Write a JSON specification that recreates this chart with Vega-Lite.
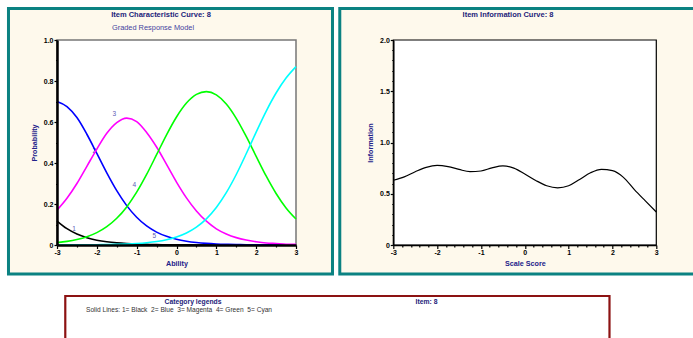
{
  "$schema": "https://vega.github.io/schema/vega-lite/v6.json",
  "background": "white",
  "padding": {"left": 6, "top": 6, "right": 0, "bottom": 0},
  "bounds": "flush",
  "spacing": 97.3,
  "config": {
    "view": {"stroke": null},
    "font": "Liberation Sans",
    "axis": {"grid": false, "labelFont": "Liberation Sans", "labelFontWeight": "bold", "labelFontSize": 7, "labelColor": "#000000", "titleFont": "Liberation Sans", "titleFontWeight": "bold", "titleFontSize": 7.2, "titleColor": "#22228a", "tickColor": "#000000", "domainColor": "#000000"}
  },
  "datasets": {
    "icc": [
      {"theta": -3, "cat": "1", "prob": 0.1168}, {"theta": -2.75, "cat": "1", "prob": 0.0796}, {"theta": -2.5, "cat": "1", "prob": 0.0535}, {"theta": -2.25, "cat": "1", "prob": 0.0357}, {"theta": -2, "cat": "1", "prob": 0.0236}, {"theta": -1.75, "cat": "1", "prob": 0.0155}, {"theta": -1.5, "cat": "1", "prob": 0.0102}, {"theta": -1.25, "cat": "1", "prob": 0.0067}, {"theta": -1, "cat": "1", "prob": 0.0044}, {"theta": -0.75, "cat": "1", "prob": 0.0029}, {"theta": -0.5, "cat": "1", "prob": 0.0019}, {"theta": -0.25, "cat": "1", "prob": 0.0012}, {"theta": 0, "cat": "1", "prob": 0.0008}, {"theta": 0.25, "cat": "1", "prob": 0.0005}, {"theta": 0.5, "cat": "1", "prob": 0.0003}, {"theta": 0.75, "cat": "1", "prob": 0.0002}, {"theta": 1, "cat": "1", "prob": 0.0001}, {"theta": 1.25, "cat": "1", "prob": 0.0001}, {"theta": 1.5, "cat": "1", "prob": 0}, {"theta": 1.75, "cat": "1", "prob": 0}, {"theta": 2, "cat": "1", "prob": 0}, {"theta": 2.25, "cat": "1", "prob": 0}, {"theta": 2.5, "cat": "1", "prob": 0}, {"theta": 2.75, "cat": "1", "prob": 0}, {"theta": 3, "cat": "1", "prob": 0},
      {"theta": -3, "cat": "2", "prob": 0.700}, {"theta": -2.75, "cat": "2", "prob": 0.675}, {"theta": -2.5, "cat": "2", "prob": 0.6215}, {"theta": -2.25, "cat": "2", "prob": 0.5402}, {"theta": -2, "cat": "2", "prob": 0.4467}, {"theta": -1.75, "cat": "2", "prob": 0.3518}, {"theta": -1.5, "cat": "2", "prob": 0.2649}, {"theta": -1.25, "cat": "2", "prob": 0.1921}, {"theta": -1, "cat": "2", "prob": 0.1352}, {"theta": -0.75, "cat": "2", "prob": 0.0929}, {"theta": -0.5, "cat": "2", "prob": 0.0629}, {"theta": -0.25, "cat": "2", "prob": 0.0421}, {"theta": 0, "cat": "2", "prob": 0.0280}, {"theta": 0.25, "cat": "2", "prob": 0.0185}, {"theta": 0.5, "cat": "2", "prob": 0.0122}, {"theta": 0.75, "cat": "2", "prob": 0.0080}, {"theta": 1, "cat": "2", "prob": 0.0052}, {"theta": 1.25, "cat": "2", "prob": 0.0034}, {"theta": 1.5, "cat": "2", "prob": 0.0022}, {"theta": 1.75, "cat": "2", "prob": 0.0015}, {"theta": 2, "cat": "2", "prob": 0.0010}, {"theta": 2.25, "cat": "2", "prob": 0.0006}, {"theta": 2.5, "cat": "2", "prob": 0.0004}, {"theta": 2.75, "cat": "2", "prob": 0.0003}, {"theta": 3, "cat": "2", "prob": 0.0002},
      {"theta": -3, "cat": "3", "prob": 0.170}, {"theta": -2.75, "cat": "3", "prob": 0.228}, {"theta": -2.5, "cat": "3", "prob": 0.300}, {"theta": -2.25, "cat": "3", "prob": 0.384}, {"theta": -2, "cat": "3", "prob": 0.468}, {"theta": -1.75, "cat": "3", "prob": 0.545}, {"theta": -1.5, "cat": "3", "prob": 0.597}, {"theta": -1.25, "cat": "3", "prob": 0.619}, {"theta": -1, "cat": "3", "prob": 0.602}, {"theta": -0.75, "cat": "3", "prob": 0.549}, {"theta": -0.5, "cat": "3", "prob": 0.478}, {"theta": -0.25, "cat": "3", "prob": 0.393}, {"theta": 0, "cat": "3", "prob": 0.307}, {"theta": 0.25, "cat": "3", "prob": 0.230}, {"theta": 0.5, "cat": "3", "prob": 0.166}, {"theta": 0.75, "cat": "3", "prob": 0.116}, {"theta": 1, "cat": "3", "prob": 0.079}, {"theta": 1.25, "cat": "3", "prob": 0.054}, {"theta": 1.5, "cat": "3", "prob": 0.036}, {"theta": 1.75, "cat": "3", "prob": 0.024}, {"theta": 2, "cat": "3", "prob": 0.016}, {"theta": 2.25, "cat": "3", "prob": 0.010}, {"theta": 2.5, "cat": "3", "prob": 0.007}, {"theta": 2.75, "cat": "3", "prob": 0.004}, {"theta": 3, "cat": "3", "prob": 0.003},
      {"theta": -3, "cat": "4", "prob": 0.0117}, {"theta": -2.75, "cat": "4", "prob": 0.0177}, {"theta": -2.5, "cat": "4", "prob": 0.0268}, {"theta": -2.25, "cat": "4", "prob": 0.0404}, {"theta": -2, "cat": "4", "prob": 0.0604}, {"theta": -1.75, "cat": "4", "prob": 0.0894}, {"theta": -1.5, "cat": "4", "prob": 0.1303}, {"theta": -1.25, "cat": "4", "prob": 0.1859}, {"theta": -1, "cat": "4", "prob": 0.2576}, {"theta": -0.75, "cat": "4", "prob": 0.3442}, {"theta": -0.5, "cat": "4", "prob": 0.4404}, {"theta": -0.25, "cat": "4", "prob": 0.5374}, {"theta": 0, "cat": "4", "prob": 0.6245}, {"theta": 0.25, "cat": "4", "prob": 0.6923}, {"theta": 0.5, "cat": "4", "prob": 0.7346}, {"theta": 0.75, "cat": "4", "prob": 0.7483}, {"theta": 1, "cat": "4", "prob": 0.7322}, {"theta": 1.25, "cat": "4", "prob": 0.6878}, {"theta": 1.5, "cat": "4", "prob": 0.6180}, {"theta": 1.75, "cat": "4", "prob": 0.5298}, {"theta": 2, "cat": "4", "prob": 0.4326}, {"theta": 2.25, "cat": "4", "prob": 0.3369}, {"theta": 2.5, "cat": "4", "prob": 0.2513}, {"theta": 2.75, "cat": "4", "prob": 0.1809}, {"theta": 3, "cat": "4", "prob": 0.1266},
      {"theta": -3, "cat": "5", "prob": 0.0002}, {"theta": -2.75, "cat": "5", "prob": 0.0004}, {"theta": -2.5, "cat": "5", "prob": 0.0006}, {"theta": -2.25, "cat": "5", "prob": 0.0009}, {"theta": -2, "cat": "5", "prob": 0.0014}, {"theta": -1.75, "cat": "5", "prob": 0.0021}, {"theta": -1.5, "cat": "5", "prob": 0.0032}, {"theta": -1.25, "cat": "5", "prob": 0.0049}, {"theta": -1, "cat": "5", "prob": 0.0074}, {"theta": -0.75, "cat": "5", "prob": 0.0113}, {"theta": -0.5, "cat": "5", "prob": 0.0172}, {"theta": -0.25, "cat": "5", "prob": 0.0260}, {"theta": 0, "cat": "5", "prob": 0.0393}, {"theta": 0.25, "cat": "5", "prob": 0.0589}, {"theta": 0.5, "cat": "5", "prob": 0.0874}, {"theta": 0.75, "cat": "5", "prob": 0.1277}, {"theta": 1, "cat": "5", "prob": 0.1830}, {"theta": 1.25, "cat": "5", "prob": 0.2552}, {"theta": 1.5, "cat": "5", "prob": 0.3439}, {"theta": 1.75, "cat": "5", "prob": 0.4450}, {"theta": 2, "cat": "5", "prob": 0.5508}, {"theta": 2.25, "cat": "5", "prob": 0.6522}, {"theta": 2.5, "cat": "5", "prob": 0.7415}, {"theta": 2.75, "cat": "5", "prob": 0.8144}, {"theta": 3, "cat": "5", "prob": 0.8703}
    ],
    "labels": [
      {"lab": "1", "theta": -2.573, "prob": 0.078},
      {"lab": "2", "theta": -2.064, "prob": 0.457},
      {"lab": "3", "theta": -1.561, "prob": 0.640},
      {"lab": "4", "theta": -1.059, "prob": 0.291},
      {"lab": "5", "theta": -0.557, "prob": 0.044}
    ],
    "iic": [
      {"theta": -3, "info": 0.632}, {"theta": -2.75, "info": 0.665}, {"theta": -2.5, "info": 0.715}, {"theta": -2.25, "info": 0.758}, {"theta": -2, "info": 0.777}, {"theta": -1.75, "info": 0.765}, {"theta": -1.5, "info": 0.737}, {"theta": -1.25, "info": 0.715}, {"theta": -1, "info": 0.722}, {"theta": -0.75, "info": 0.752}, {"theta": -0.5, "info": 0.771}, {"theta": -0.25, "info": 0.750}, {"theta": 0, "info": 0.693}, {"theta": 0.25, "info": 0.630}, {"theta": 0.5, "info": 0.578}, {"theta": 0.75, "info": 0.558}, {"theta": 1, "info": 0.578}, {"theta": 1.25, "info": 0.640}, {"theta": 1.5, "info": 0.705}, {"theta": 1.75, "info": 0.738}, {"theta": 2, "info": 0.725}, {"theta": 2.25, "info": 0.660}, {"theta": 2.5, "info": 0.540}, {"theta": 2.75, "info": 0.430}, {"theta": 3, "info": 0.322}
    ]
  },
  "hconcat": [
    {
      "width": 239,
      "height": 205,
      "layer": [
        {"data": {"values": [{}]}, "mark": {"type": "rect", "fill": "#fef9ec", "stroke": "#0b8282", "strokeWidth": 3},
         "encoding": {"x": {"datum": -4.218}, "x2": {"datum": 3.916}, "y": {"datum": 1.1537}, "y2": {"datum": -0.1415}}},
        {"data": {"values": [{}]}, "mark": {"type": "rect", "fill": "white", "stroke": "#8c1212", "strokeWidth": 2.2},
         "encoding": {"x": {"datum": -2.792}, "x2": {"datum": 10.870}, "y": {"datum": -0.2488}, "y2": {"datum": -0.4927}}},
        {"data": {"values": [{}]}, "mark": {"type": "rect", "fill": "white", "stroke": "#777777", "strokeWidth": 1.5},
         "encoding": {"x": {"datum": -3}, "x2": {"datum": 3}, "y": {"datum": 0}, "y2": {"datum": 1}}},
        {"data": {"name": "labels"}, "mark": {"type": "text", "fontSize": 6.5, "color": "#5a5ab4", "font": "Liberation Sans"},
         "encoding": {"x": {"field": "theta", "type": "quantitative"}, "y": {"field": "prob", "type": "quantitative"}, "text": {"field": "lab"}}},
        {"data": {"name": "icc"}, "mark": {"type": "line", "interpolate": "monotone", "strokeWidth": 1.6},
         "encoding": {
           "x": {"field": "theta", "type": "quantitative", "scale": {"domain": [-3, 3], "nice": false},
                 "axis": {"title": "Ability", "zindex": 2, "tickCount": 100, "labelOverlap": false, "labelFlush": false, "labelBound": false, "values": [-3, -2.5, -2, -1.5, -1, -0.5, 0, 0.5, 1, 1.5, 2, 2.5, 3],
                          "labelExpr": "abs(datum.value - round(datum.value)) < 0.01 ? '' + round(datum.value) : ''",
                          "tickSize": {"condition": {"test": "abs(datum.value - round(datum.value)) > 0.01", "value": 2}, "value": 3.5},
                          "domainWidth": 2.5, "tickWidth": 1.2, "labelPadding": 0, "titlePadding": 4}},
           "y": {"field": "prob", "type": "quantitative", "scale": {"domain": [0, 1], "nice": false},
                 "axis": {"title": "Probability", "zindex": 2, "tickCount": 100, "labelOverlap": false, "labelFlush": false, "labelBound": false, "values": [0, 0.1, 0.2, 0.3, 0.4, 0.5, 0.6, 0.7, 0.8, 0.9, 1],
                          "labelExpr": "abs(datum.value*5 - round(datum.value*5)) < 0.01 ? (datum.value == 0 ? '0' : format(datum.value, '.1f')) : ''",
                          "tickSize": {"condition": {"test": "abs(datum.value*5 - round(datum.value*5)) > 0.01", "value": 1.5}, "value": 3},
                          "domainWidth": 2.5, "tickWidth": 1.2, "labelPadding": 1, "titlePadding": 5}},
           "color": {"field": "cat", "type": "nominal", "scale": {"domain": ["1", "2", "3", "4", "5"], "range": ["#000000", "#0000ff", "#ff00ff", "#00ff00", "#00ffff"]}, "legend": null}
         }},
        {"data": {"values": [{}]}, "mark": {"type": "text", "text": "Item Characteristic Curve: 8", "fontWeight": "bold", "fontSize": 7.5, "color": "#1c1c7a", "align": "center", "baseline": "middle"},
         "encoding": {"x": {"datum": -0.389}, "y": {"datum": 1.122}}},
        {"data": {"values": [{}]}, "mark": {"type": "text", "text": "Graded Response Model", "fontSize": 7.4, "color": "#4444a0", "align": "center", "baseline": "middle"},
         "encoding": {"x": {"datum": -0.590}, "y": {"datum": 1.0576}}},
        {"data": {"values": [{}]}, "mark": {"type": "text", "text": "Category legends", "fontWeight": "bold", "fontSize": 6.8, "color": "#1c1c7a", "align": "center", "baseline": "middle"},
         "encoding": {"x": {"datum": 0.414}, "y": {"datum": -0.2766}}},
        {"data": {"values": [{}]}, "mark": {"type": "text", "text": "Item: 8", "fontWeight": "bold", "fontSize": 6.8, "color": "#1c1c7a", "align": "center", "baseline": "middle"},
         "encoding": {"x": {"datum": 6.276}, "y": {"datum": -0.2766}}},
        {"data": {"values": [{}]}, "mark": {"type": "text", "text": "Solid Lines: 1= Black\u00a0 2= Blue\u00a0 3= Magenta\u00a0 4= Green\u00a0 5= Cyan", "fontSize": 6.6, "color": "#333333", "align": "left", "baseline": "middle"},
         "encoding": {"x": {"datum": -2.272}, "y": {"datum": -0.3185}}}
      ]
    },
    {
      "width": 263,
      "height": 205,
      "layer": [
        {"data": {"values": [{}]}, "mark": {"type": "rect", "fill": "#fef9ec", "stroke": "#0b8282", "strokeWidth": 3},
         "encoding": {"x": {"datum": -4.221}, "x2": {"datum": 3.951}, "y": {"datum": 2.307}, "y2": {"datum": -0.283}}},
        {"data": {"values": [{}]}, "mark": {"type": "rect", "fill": "white", "stroke": "#000000", "strokeWidth": 1.2},
         "encoding": {"x": {"datum": -3}, "x2": {"datum": 3}, "y": {"datum": 0}, "y2": {"datum": 2}}},
        {"data": {"name": "iic"}, "mark": {"type": "line", "interpolate": "monotone", "strokeWidth": 1.2, "color": "#000000"},
         "encoding": {
           "x": {"field": "theta", "type": "quantitative", "scale": {"domain": [-3, 3], "nice": false},
                 "axis": {"title": "Scale Score", "zindex": 2, "tickCount": 100, "labelOverlap": false, "labelFlush": false, "labelBound": false, "values": [-3, -2.8, -2.6, -2.4, -2.2, -2, -1.8, -1.6, -1.4, -1.2, -1, -0.8, -0.6, -0.4, -0.2, 0, 0.2, 0.4, 0.6, 0.8, 1, 1.2, 1.4, 1.6, 1.8, 2, 2.2, 2.4, 2.6, 2.8, 3],
                          "labelExpr": "abs(datum.value - round(datum.value)) < 0.01 ? '' + round(datum.value) : ''",
                          "tickSize": {"condition": {"test": "abs(datum.value - round(datum.value)) > 0.01", "value": 2}, "value": 3.5},
                          "domainWidth": 1.5, "tickWidth": 1.2, "labelPadding": 0, "titlePadding": 4}},
           "y": {"field": "info", "type": "quantitative", "scale": {"domain": [0, 2], "nice": false},
                 "axis": {"title": "Information", "zindex": 2, "tickCount": 100, "labelOverlap": false, "labelFlush": false, "labelBound": false, "values": [0, 0.1, 0.2, 0.3, 0.4, 0.5, 0.6, 0.7, 0.8, 0.9, 1, 1.1, 1.2, 1.3, 1.4, 1.5, 1.6, 1.7, 1.8, 1.9, 2],
                          "labelExpr": "abs(datum.value*2 - round(datum.value*2)) < 0.01 ? (datum.value == 0 ? '0' : format(datum.value, '.1f')) : ''",
                          "tickSize": {"condition": {"test": "abs(datum.value*2 - round(datum.value*2)) > 0.01", "value": 1.5}, "value": 3},
                          "domainWidth": 1.5, "tickWidth": 1.2, "labelPadding": 1, "titlePadding": 5}}
         }},
        {"data": {"values": [{}]}, "mark": {"type": "text", "text": "Item Information Curve: 8", "fontWeight": "bold", "fontSize": 7.5, "color": "#1c1c7a", "align": "center", "baseline": "middle"},
         "encoding": {"x": {"datum": -0.383}, "y": {"datum": 2.242}}}
      ]
    }
  ]
}
